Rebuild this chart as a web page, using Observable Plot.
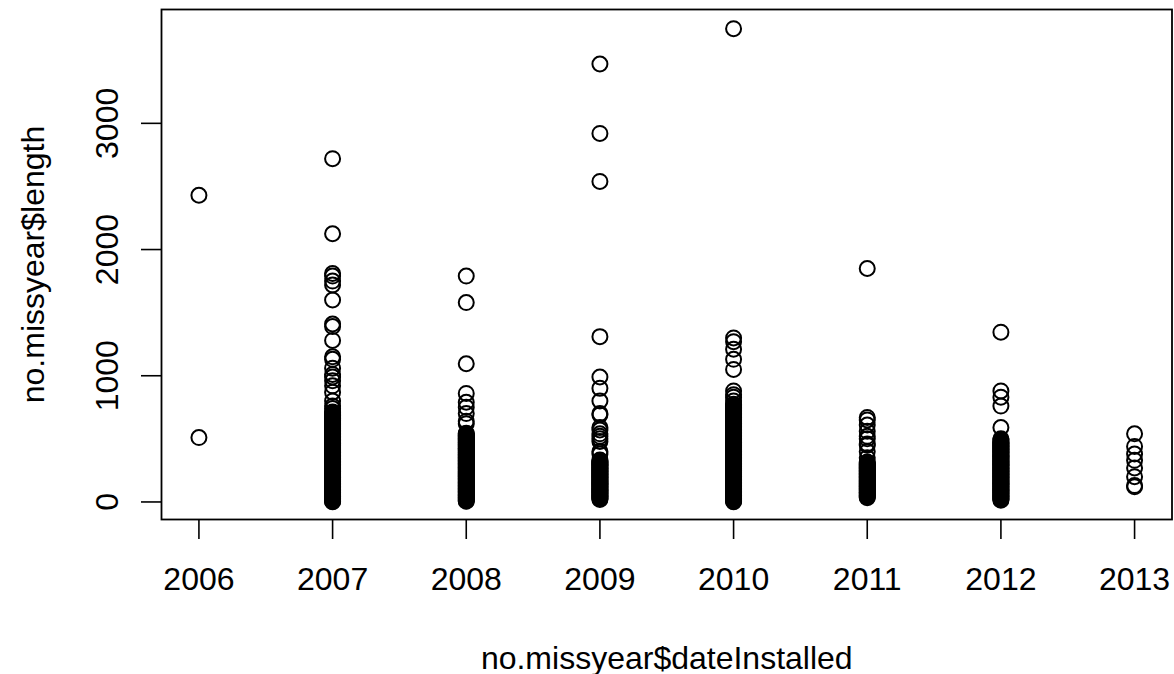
<!DOCTYPE html>
<html>
<head>
<meta charset="utf-8">
<script src="https://cdn.jsdelivr.net/npm/d3@7"></script>
<script src="https://cdn.jsdelivr.net/npm/@observablehq/plot@0.6"></script>
<style>
  html, body { margin: 0; padding: 0; background: white; }
  svg { display: block; }
</style>
</head>
<body>
<div id="chart"></div>
<script>
// Tick labels / categories
const years = [2006, 2007, 2008, 2009, 2010, 2011, 2012, 2013];
const yTicks = [0, 1000, 2000, 3000];
const xTitle = "no.missyear$dateInstalled";
const yTitle = "no.missyear$length";

// Lengths per installation year
const len2006 = [2430, 510];
const len2007 = [2720, 2125, 1810, 1790, 1750, 1720, 1600, 1410, 1390, 1280, 1150, 1130, 1060, 1010, 990, 960, 920, 870, 800, 760, 740,
  712, 706, 701, 694, 688, 683, 676, 671, 664, 659, 652, 647, 641, 634, 629, 622, 617, 611, 604, 598,
  593, 586, 581, 575, 568, 563, 556, 551, 545, 538, 533, 526, 521, 514, 509, 503, 496, 491, 484, 479,
  473, 466, 461, 454, 449, 443, 436, 431, 424, 419, 413, 406, 401, 394, 389, 383, 376, 371, 364, 359,
  353, 346, 341, 334, 329, 323, 316, 311, 304, 299, 293, 286, 281, 274, 269, 263, 256, 251, 244, 239,
  233, 226, 221, 214, 209, 203, 196, 191, 184, 179, 173, 166, 161, 154, 149, 143, 136, 131, 124, 119,
  113, 106, 101, 94, 89, 83, 76, 71, 64, 59, 53, 46, 41, 34, 29, 23, 16, 11, 6, 2];
const len2008 = [1790, 1580, 1095, 860, 790, 750, 700, 640, 620,
  545, 539, 532, 527, 520, 514, 509, 502, 497, 490, 484, 479, 472, 467, 460, 454, 449, 442, 437, 430,
  424, 419, 412, 407, 400, 394, 389, 382, 377, 370, 364, 359, 352, 347, 340, 334, 329, 322, 317, 310,
  304, 299, 292, 287, 280, 274, 269, 262, 257, 250, 244, 239, 232, 227, 220, 214, 209, 202, 197, 190,
  184, 179, 172, 167, 160, 154, 149, 142, 137, 130, 124, 119, 112, 107, 100, 94, 89, 82, 77, 70,
  64, 59, 52, 47, 40, 34, 29, 22, 17, 10, 5];
const len2009 = [3470, 2920, 2540, 1310, 990, 900, 800, 700, 690, 590, 570, 540, 520, 500, 480, 400, 380,
  332, 326, 319, 314, 307, 301, 296, 289, 284, 277, 271, 266, 259, 254, 247, 241, 236, 229, 224, 217,
  211, 206, 199, 194, 187, 181, 176, 169, 164, 157, 151, 146, 139, 134, 127, 121, 116, 109, 104, 97,
  91, 86, 79, 74, 67, 61, 56, 49, 44, 37, 31, 26, 20];
const len2010 = [3750, 1300, 1270, 1210, 1130, 1050, 880, 850, 830, 800,
  775, 769, 762, 757, 750, 744, 739, 732, 727, 720, 714, 709, 702, 697, 690, 684, 679, 672, 667, 660,
  654, 649, 642, 637, 630, 624, 619, 612, 607, 600, 594, 589, 582, 577, 570, 564, 559, 552, 547, 540,
  534, 529, 522, 517, 510, 504, 499, 492, 487, 480, 474, 469, 462, 457, 450, 444, 439, 432, 427, 420,
  414, 409, 402, 397, 390, 384, 379, 372, 367, 360, 354, 349, 342, 337, 330, 324, 319, 312, 307, 300,
  294, 289, 282, 277, 270, 264, 259, 252, 247, 240, 234, 229, 222, 217, 210, 204, 199, 192, 187, 180,
  174, 169, 162, 157, 150, 144, 139, 132, 127, 120, 114, 109, 102, 97, 90, 84, 79, 72, 67, 60,
  54, 49, 42, 37, 30, 24, 19, 12, 7, 2];
const len2011 = [1850, 670, 650, 610, 560, 520, 500, 460, 450, 400, 350,
  316, 310, 303, 298, 291, 285, 280, 273, 268, 261, 255, 250, 243, 238, 231, 225, 220, 213, 208, 201,
  195, 190, 183, 178, 171, 165, 160, 153, 148, 141, 135, 130, 123, 118, 111, 105, 100, 93, 88, 81,
  75, 70, 63, 58, 51, 45, 40, 34];
const len2012 = [1345, 880, 830, 760, 590, 500, 490,
  482, 476, 469, 464, 457, 451, 446, 439, 434, 427, 421, 416, 409, 404, 397, 391, 386, 379, 374, 367,
  361, 356, 349, 344, 337, 331, 326, 319, 314, 307, 301, 296, 289, 284, 277, 271, 266, 259, 254, 247,
  241, 236, 229, 224, 217, 211, 206, 199, 194, 187, 181, 176, 169, 164, 157, 151, 146, 139, 134, 127,
  121, 116, 109, 104, 97, 91, 86, 79, 74, 67, 61, 56, 49, 44, 37, 31, 26, 19, 14];
const len2013 = [540, 440, 380, 330, 270, 200, 130, 120];

const lengths = [len2006, len2007, len2008, len2009, len2010, len2011, len2012, len2013];
const points = [];
years.forEach((yr, i) => lengths[i].forEach(v => points.push({year: yr, length: v})));

const FONT = "'Liberation Sans', Arial, Helvetica, sans-serif";
const FS = 32;

const chart = Plot.plot({
  width: 1174,
  height: 674,
  marginLeft: 161,
  marginRight: 2.5,
  marginTop: 9,
  marginBottom: 155,
  style: {fontFamily: FONT, background: "white", color: "black", overflow: "visible"},
  x: {domain: [2005.72, 2013.28]},
  y: {domain: [-139, 3902]},
  marks: [
    Plot.dot(points, {x: "year", y: "length", r: 7.5, stroke: "black", strokeWidth: 2, fill: "none"}),
    Plot.frame({stroke: "black", strokeWidth: 1.8}),
    Plot.axisX({ticks: years, tickSize: 20, tickPadding: 28, tickFormat: d => String(d), fontSize: FS, label: null, strokeWidth: 1.6}),
    Plot.axisY({ticks: yTicks, tickSize: 20, tickFormat: () => "", label: null, strokeWidth: 1.6}),
    Plot.text(yTicks, {y: d => d, text: d => String(d), frameAnchor: "left", dx: -44, rotate: -90,
      textAnchor: "middle", lineAnchor: "bottom", fontSize: FS, fill: "black"}),
    Plot.text([xTitle], {text: d => d, frameAnchor: "bottom", dy: 149, lineAnchor: "bottom", fontSize: FS, fill: "black"}),
    Plot.text([yTitle], {text: d => d, frameAnchor: "left", dx: -118, rotate: -90,
      textAnchor: "middle", lineAnchor: "bottom", fontSize: FS, fill: "black"})
  ]
});
document.getElementById("chart").appendChild(chart);
</script>
</body>
</html>
